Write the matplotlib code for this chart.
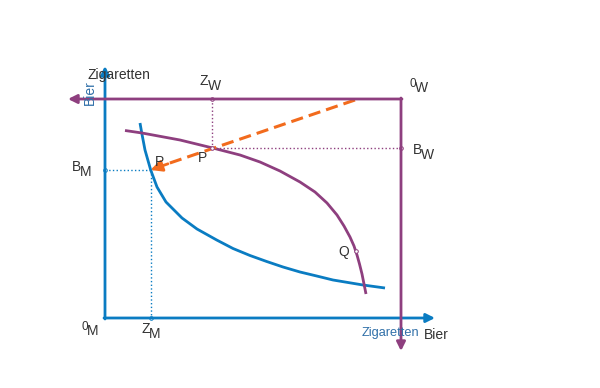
import matplotlib
matplotlib.use("Agg")
import matplotlib.pyplot as plt

plt.rcParams['font.family'] = ['Liberation Sans', 'DejaVu Sans']

# Indifference curve of M (blue), pixel-space coordinates
m_curve_x = [140, 141.7, 145, 150.7, 157, 166, 182, 197, 216.7, 233, 250, 266.7, 283, 300, 316.7, 333, 363, 385]
m_curve_y = [123, 132.7, 150, 170, 187, 202, 218, 229, 240, 248.5, 255.5, 261.5, 267, 272, 276, 280, 285, 288]
# Indifference curve of W (purple)
w_curve_x = [125, 142, 180, 211.5, 240, 260, 280, 300, 315, 327, 337, 344, 350, 354, 357, 359.5, 362, 364, 366]
w_curve_y = [130.5, 133, 140, 147.7, 155, 162, 171, 182, 192, 203, 215, 226, 237, 246, 255, 264, 274, 284, 294]

P_M = (150.5, 170)
P_W = (211.5, 148)
Q = (355.6, 251)
origin_M = (105, 318)
origin_W = (401, 99)
trade_start = (355, 100)

BLUE = "#0a7cc2"
PURPLE = "#8e3f7f"
ORANGE = "#f26b1d"
TXT = "#333333"
LBLUE = "#2f6fa8"

fig = plt.figure(figsize=(6, 3.88), dpi=100)
ax = fig.add_axes([0, 0, 1, 1])
ax.set_xlim(0, 600)
ax.set_ylim(388, 0)
ax.axis("off")

ap = dict(lw=2, mutation_scale=13, shrinkA=0, shrinkB=0)
# M axes
ax.annotate("", xy=(origin_M[0], 66), xytext=(origin_M[0], origin_M[1] + 1),
            arrowprops=dict(arrowstyle="-|>", color=BLUE, **ap))
ax.annotate("", xy=(435, origin_M[1]), xytext=(origin_M[0] - 1, origin_M[1]),
            arrowprops=dict(arrowstyle="-|>", color=BLUE, **ap))
# W axes
ax.annotate("", xy=(68, origin_W[1]), xytext=(origin_W[0] + 1, origin_W[1]),
            arrowprops=dict(arrowstyle="-|>", color=PURPLE, **ap))
ax.annotate("", xy=(origin_W[0], 351), xytext=(origin_W[0], origin_W[1] - 1),
            arrowprops=dict(arrowstyle="-|>", color=PURPLE, **ap))

# dotted guide lines
ax.plot([P_W[0], P_W[0]], [origin_W[1], P_W[1]], ls=":", color=PURPLE, lw=1)
ax.plot([P_W[0], origin_W[0]], [P_W[1], P_W[1]], ls=":", color=PURPLE, lw=1)
ax.plot([origin_M[0], P_M[0]], [P_M[1], P_M[1]], ls=":", color=BLUE, lw=1)
ax.plot([P_M[0], P_M[0]], [P_M[1], origin_M[1]], ls=":", color=BLUE, lw=1)

# curves
ax.plot(m_curve_x, m_curve_y, color=BLUE, lw=2, solid_capstyle="butt", solid_joinstyle="round")
ax.plot(w_curve_x, w_curve_y, color=PURPLE, lw=2, solid_capstyle="butt", solid_joinstyle="round")

# orange dashed arrow
ax.plot([trade_start[0], 164], [trade_start[1], 165], color=ORANGE, lw=2.2, ls=(0, (4, 2)))
ax.annotate("", xy=P_M, xytext=(168, 163.8),
            arrowprops=dict(arrowstyle="-|>", color=ORANGE, lw=2, mutation_scale=17, shrinkA=0, shrinkB=0))

# small markers
for (x, y), c in [((P_W[0], origin_W[1]), PURPLE), ((origin_W[0], P_W[1]), PURPLE), (P_W, PURPLE),
                  ((origin_M[0], P_M[1]), BLUE), ((P_M[0], origin_M[1]), BLUE), (Q, PURPLE)]:
    ax.plot(x, y, "o", ms=2.6, mfc="white", mec=c, mew=0.7)

fs = 10

def lab(x, y, main, sub, sup=False, color=TXT):
    if sup:
        ax.text(x, y - 4, main, fontsize=fs - 1.5, color=color, ha="left", va="center")
        ax.text(x + 6, y, sub, fontsize=fs, color=color, ha="left", va="center")
    else:
        ax.text(x, y - 3, main, fontsize=fs, color=color, ha="left", va="center")
        ax.text(x + 8, y + 2, sub, fontsize=fs, color=color, ha="left", va="center")

ax.text(88, 75, "Zigaretten", fontsize=fs, color=TXT, ha="left", va="center")
ax.text(90, 93, "Bier", fontsize=fs, color=LBLUE, rotation=90, ha="center", va="center")
lab(200, 84, "Z", "W")
lab(409, 88, "0", "W", sup=True)
lab(413, 153, "B", "W")
lab(72, 170, "B", "M")
ax.text(155, 162, "P", fontsize=fs, color=TXT, ha="left", va="center")
ax.text(198, 158, "P", fontsize=fs, color=TXT, ha="left", va="center")
ax.text(338, 252, "Q", fontsize=fs, color=TXT, ha="left", va="center")
lab(81, 331, "0", "M", sup=True)
lab(141, 332, "Z", "M")
ax.text(362, 333, "Zigaretten", fontsize=9.2, color=LBLUE, ha="left", va="center")
ax.text(424, 335, "Bier", fontsize=fs, color=TXT, ha="left", va="center")

fig.savefig("out.png", dpi=100)
